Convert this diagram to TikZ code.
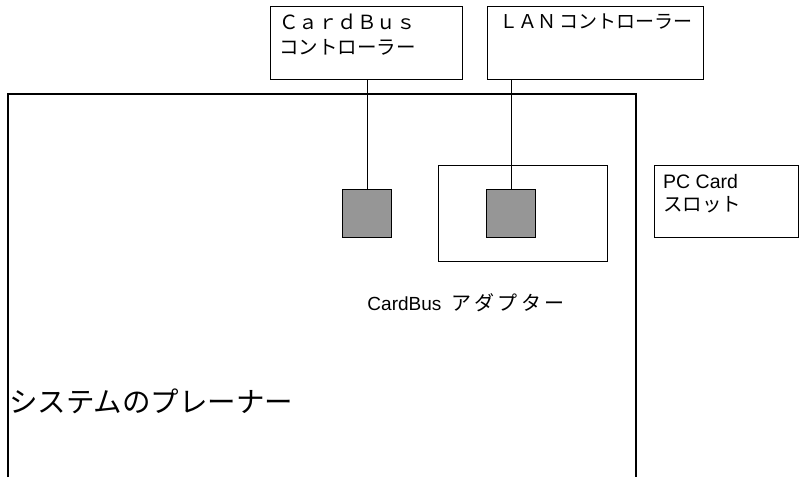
\documentclass[tikz,border=0pt]{standalone}
\usepackage{fontspec}
\setmainfont{Liberation Sans}
\newfontfamily\jp{Noto Sans CJK JP}
\definecolor{chipgray}{RGB}{150,150,150}
\begin{document}
\begin{tikzpicture}[x=1pt,y=-1pt,
  box/.style={draw,line width=1.1pt,inner sep=0pt,anchor=north west},
  chip/.style={draw,line width=1.1pt,fill=chipgray,inner sep=0pt,anchor=north west,minimum width=49pt,minimum height=48pt},
  lbl/.style={anchor=west,inner sep=0pt},
  wire/.style={line width=1.1pt}]
\useasboundingbox (0,0) rectangle (800,477);
% system planar (open at bottom)
\draw[wire] (8,477) -- (8,94) -- (636,94) -- (636,477);
\node[lbl,font=\jp\fontsize{28.5}{30}\selectfont] (planar) at (9,401) {システムのプレーナー};
% controllers
\node[box,minimum width=192pt,minimum height=73pt] (cbc) at (270,6) {};
\node[lbl,font=\jp\fontsize{19.5}{22}\selectfont] (cbct1) at (279,22) {ＣａｒｄＢｕｓ};
\node[lbl,font=\jp\fontsize{19.5}{22}\selectfont] (cbct2) at (279,47) {コントローラー};
\node[box,minimum width=216pt,minimum height=73pt] (lan) at (487,6) {};
\node[lbl,font=\jp\fontsize{19}{22}\selectfont] (lant) at (499,22) {ＬＡＮ\,コントローラー};
% adapter
\node[box,minimum width=169pt,minimum height=96pt] (adapter) at (438,165) {};
\node[chip] (sq1) at (342,189) {};
\node[chip] (sq2) at (486,189) {};
\node[anchor=center,inner sep=0pt,font=\fontsize{19}{22}\selectfont] (adt) at (466,303) {CardBus {\jp\fontsize{20}{22}\selectfont\ ア\,ダ\,プ\,タ\,ー}};
% PC card slot
\node[box,minimum width=144pt,minimum height=72pt] (slot) at (654,165) {};
\node[lbl,font=\fontsize{19.5}{22}\selectfont] (slt1) at (663,182) {PC Card};
\node[lbl,font=\jp\fontsize{19.5}{22}\selectfont] (slt2) at (663,205) {スロット};
% connectors
\draw[wire] (sq1.north) -- (sq1.north |- cbc.south);
\draw[wire] (sq2.north) -- (sq2.north |- lan.south);
\end{tikzpicture}
\end{document}
